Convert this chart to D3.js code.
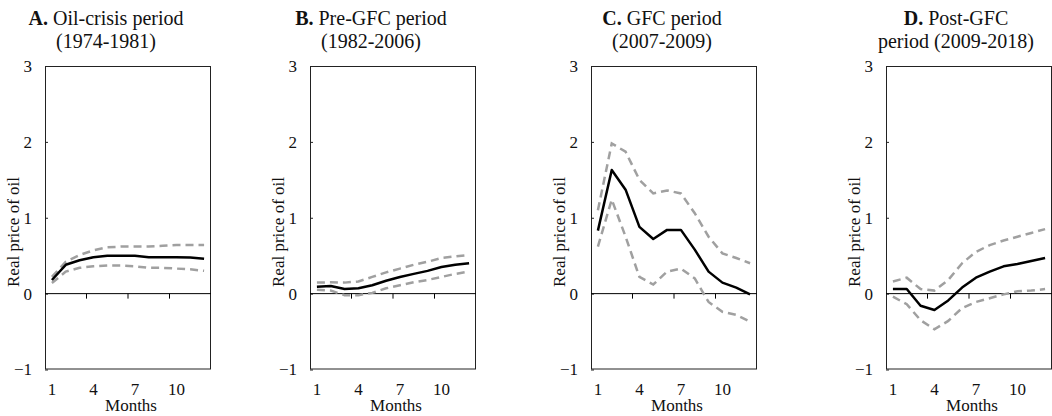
<!DOCTYPE html>
<html>
<head>
<meta charset="utf-8">
<script src="https://cdn.jsdelivr.net/npm/d3@7"></script>
<style>
  body { margin: 0; background: #fff; }
  svg { display: block; font-family: "Liberation Serif", "Times New Roman", serif; }
</style>
</head>
<body>
<svg id="chart" width="1052" height="416"></svg>
<script>
// months on the horizontal axis
const months = [1, 2, 3, 4, 5, 6, 7, 8, 9, 10, 11, 12];
const monthLabels = [1, 4, 7, 10];
const yTicks = [-1, 0, 1, 2, 3];

const panelLetters = ['A.', 'B.', 'C.', 'D.'];
const titleLine1 = [' Oil-crisis period', ' Pre-GFC period', ' GFC period', ' Post-GFC'];
const titleLine2 = ['(1974-1981)', '(1982-2006)', '(2007-2009)', 'period (2009-2018)'];

// impulse responses (point estimate) and bands
const responseA = [0.18, 0.38, 0.44, 0.48, 0.50, 0.50, 0.50, 0.48, 0.48, 0.48, 0.475, 0.46];
const upperA = [0.22, 0.42, 0.51, 0.57, 0.61, 0.62, 0.62, 0.62, 0.63, 0.64, 0.64, 0.64];
const lowerA = [0.14, 0.29, 0.34, 0.36, 0.37, 0.37, 0.36, 0.34, 0.34, 0.33, 0.32, 0.30];

const responseB = [0.09, 0.10, 0.06, 0.07, 0.11, 0.17, 0.22, 0.26, 0.30, 0.35, 0.38, 0.40];
const upperB = [0.145, 0.15, 0.145, 0.16, 0.22, 0.28, 0.33, 0.38, 0.42, 0.47, 0.49, 0.51];
const lowerB = [0.05, 0.04, -0.02, -0.02, 0.01, 0.07, 0.11, 0.15, 0.18, 0.22, 0.26, 0.29];

const responseC = [0.83, 1.63, 1.37, 0.88, 0.72, 0.84, 0.84, 0.58, 0.29, 0.145, 0.08, -0.01];
const upperC = [1.10, 1.98, 1.87, 1.50, 1.32, 1.36, 1.32, 1.06, 0.75, 0.53, 0.47, 0.40];
const lowerC = [0.62, 1.24, 0.75, 0.22, 0.12, 0.29, 0.33, 0.20, -0.11, -0.24, -0.28, -0.37];

const responseD = [0.06, 0.06, -0.16, -0.215, -0.09, 0.08, 0.21, 0.29, 0.36, 0.39, 0.43, 0.47];
const upperD = [0.16, 0.21, 0.06, 0.04, 0.18, 0.40, 0.55, 0.64, 0.70, 0.75, 0.80, 0.85];
const lowerD = [-0.04, -0.14, -0.35, -0.47, -0.36, -0.19, -0.11, -0.06, -0.01, 0.03, 0.04, 0.06];

const responses = [responseA, responseB, responseC, responseD];
const uppers = [upperA, upperB, upperC, upperD];
const lowers = [lowerA, lowerB, lowerC, lowerD];

// layout
const boxLeft = [45, 310, 591, 886];
const titleCenter = [106, 371, 662, 956];
const boxW = 166, boxTop = 66, boxBottom = 369.5;
const serif = '"Liberation Serif", "Times New Roman", serif';

const svg = d3.select('#chart');

panelLetters.forEach((letter, i) => {
  const left = boxLeft[i];
  const x = d3.scaleBand().domain(months).range([left, left + boxW]).padding(0);
  const y = d3.scaleLinear().domain([-1, 3]).range([boxBottom, boxTop]);
  const cx = m => x(m) + x.bandwidth() / 2;

  const g = svg.append('g').attr('font-family', serif).attr('fill', '#111');

  // title
  const t1 = g.append('text')
    .attr('x', titleCenter[i]).attr('y', 25)
    .attr('text-anchor', 'middle')
    .attr('font-size', 20);
  t1.append('tspan').attr('font-weight', 'bold').text(letter);
  t1.append('tspan').text(titleLine1[i]);
  g.append('text')
    .attr('x', titleCenter[i]).attr('y', 48)
    .attr('text-anchor', 'middle')
    .attr('font-size', 20)
    .text(titleLine2[i]);

  // plot box
  g.append('rect')
    .attr('x', left + 0.5).attr('y', boxTop + 0.5)
    .attr('width', boxW - 1).attr('height', boxBottom - boxTop - 1)
    .attr('fill', 'none').attr('stroke', '#222').attr('stroke-width', 1);

  // y axis, inward ticks
  const yAxis = g.append('g')
    .attr('transform', `translate(${left},0)`)
    .call(d3.axisLeft(y).tickValues(yTicks).tickFormat(d3.format('d'))
      .tickSizeInner(-3).tickSizeOuter(0).tickPadding(13))
    .attr('font-family', serif).attr('font-size', 17);
  yAxis.select('.domain').remove();
  yAxis.selectAll('line').attr('stroke', '#222');
  yAxis.selectAll('text').attr('fill', '#111');

  // zero line with category-boundary ticks
  g.append('line')
    .attr('x1', left).attr('x2', left + boxW)
    .attr('y1', y(0)).attr('y2', y(0))
    .attr('stroke', '#000').attr('stroke-width', 1);
  g.selectAll('.xtick')
    .data([4, 7, 10])
    .enter().append('line')
    .attr('class', 'xtick')
    .attr('x1', m => x(m)).attr('x2', m => x(m))
    .attr('y1', y(0)).attr('y2', y(0) + 5)
    .attr('stroke', '#000');

  // month labels under the box
  const xAxis = g.append('g')
    .attr('transform', `translate(0,${boxBottom})`)
    .call(d3.axisBottom(x).tickValues(monthLabels).tickSize(0).tickPadding(13))
    .attr('font-family', serif).attr('font-size', 17);
  xAxis.select('.domain').remove();
  xAxis.selectAll('text').attr('fill', '#111');

  g.append('text')
    .attr('x', left + boxW / 2 + 3).attr('y', 411)
    .attr('text-anchor', 'middle')
    .attr('font-size', 17)
    .text('Months');

  g.append('text')
    .attr('transform', `translate(${left - 32},232) rotate(-90)`)
    .attr('text-anchor', 'middle')
    .attr('dy', '0.35em')
    .attr('font-size', 17)
    .text('Real  price of oil');

  const line = d3.line().x((d, k) => cx(months[k])).y(d => y(d));

  [uppers[i], lowers[i]].forEach(band => {
    g.append('path')
      .datum(band)
      .attr('d', line)
      .attr('fill', 'none')
      .attr('stroke', '#a0a0a0')
      .attr('stroke-width', 2.5)
      .attr('stroke-dasharray', '8,5');
  });

  g.append('path')
    .datum(responses[i])
    .attr('d', line)
    .attr('fill', 'none')
    .attr('stroke', '#000')
    .attr('stroke-width', 2.5)
    .attr('stroke-linejoin', 'round');
});
</script>
</body>
</html>
